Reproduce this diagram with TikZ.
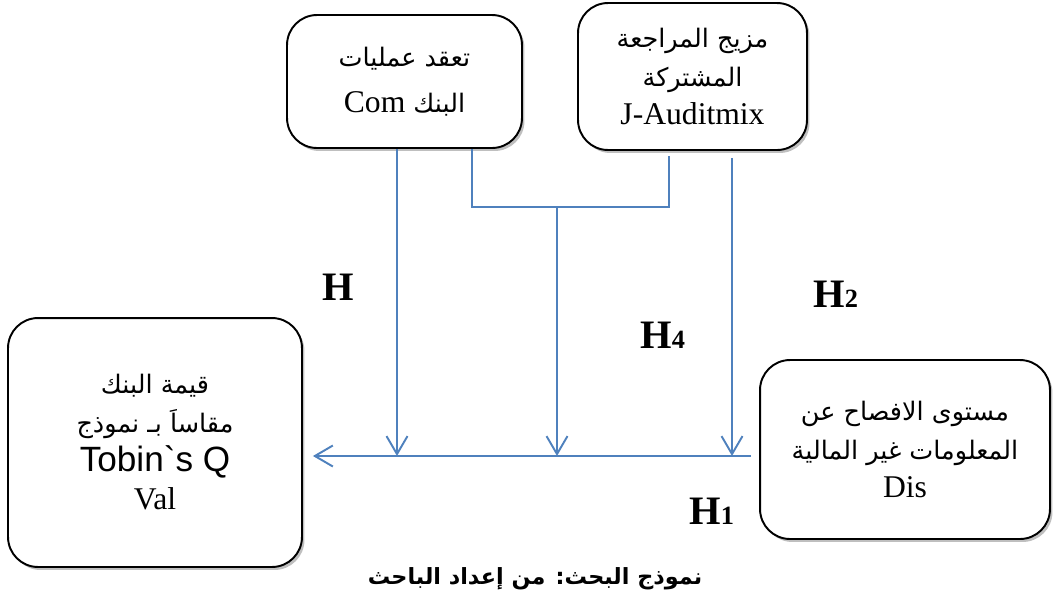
\documentclass[tikz,border=0pt]{standalone}
\usepackage{fontspec}
\setmainfont{Liberation Serif}
\newfontfamily\arabicfont[Script=Arabic]{DejaVu Sans}
\newfontfamily\arialfont{Liberation Sans}
\TeXXeTstate=1
\usetikzlibrary{arrows.meta,shadows,scopes}
\definecolor{lnblue}{RGB}{79,129,189}
\newcommand{\arl}[1]{{\arabicfont\beginR #1\endR}}
\newcommand{\lat}[1]{{\fontsize{18}{22}\selectfont\rmfamily #1}}
\tikzset{
  >= {Straight Barb[length=0.36cm,width=0.42cm]},
  bx/.style={rectangle, rounded corners=0.6cm, draw, line width=1.1pt, fill=white,
    align=center, minimum width=#1, font=\fontsize{14.5}{22}\selectfont,
    drop shadow={shadow xshift=0.05cm, shadow yshift=-0.06cm, opacity=0.5}},
  hl/.style={font=\fontsize{23}{23}\selectfont\bfseries, anchor=base west, inner sep=0pt}
}
\newcommand{\hsub}[1]{{\fontsize{15}{15}\selectfont #1}}

\begin{document}
\begin{tikzpicture}[x=0.02cm, y=-0.02cm, line/.style={draw, lnblue, line width=1.1pt}]
  \useasboundingbox (0,0) rectangle (1054,596);
  \node[bx=4.7cm, minimum height=2.66cm] (com) at (404.5,81.5)
    {\arl{تعقد عمليات}\\[0.15cm] \arl{البنك \lat{\beginL Com\endL}}};
  \node[bx=4.58cm, minimum height=2.94cm] (jam) at (692.5,76.5)
    {\arl{مزيج المراجعة}\\ \arl{المشتركة}\\ \lat{J-Auditmix}};
  \node[bx=5.88cm, minimum height=4.98cm] (val) at (155,442.5)
    {\arl{قيمة البنك}\\ \arl{مقاساَ بـ نموذج}\\ {\fontsize{20}{22}\selectfont\arialfont Tobin`s Q}\\ \lat{Val}};
  \node[bx=5.8cm, minimum height=3.58cm] (dis) at (905,449.5)
    {\arl{مستوى الافصاح عن}\\ \arl{المعلومات غير المالية}\\ \lat{Dis}};
  % meeting points on the main line
  \coordinate (h1) at (397,456);
  \coordinate (h4) at (557,456);
  \coordinate (h2) at (732,456);
  \coordinate (bl) at (472,207);
  \coordinate (bm) at (557,207);
  \coordinate (bright) at (669,207);
  {[every path/.style=line]
  \draw (com.south -| bl) -- (bl) -- (bright) -- ([yshift=-0.1cm]jam.south -| bright);
  }
  {[every path/.style=line, ->]
  \draw (com.south -| h1) -- (h1);
  \draw (bm) -- (h4);
  \draw ([yshift=-0.14cm]jam.south -| h2) -- (h2);
  \draw[shorten <=0.16cm, shorten >=0.2cm] (dis.west |- h4) -- (val.east |- h4);
  }
  \node[hl] (lh) at (322,300) {H};
  \node[hl] (lh4) at (640,348) {H\hsub{4}};
  \node[hl] (lh2) at (813,307) {H\hsub{2}};
  \node[hl] (lh1) at (689,524) {H\hsub{1}};
  \node[font=\fontsize{12.7}{14}\selectfont\bfseries, anchor=base] (cap) at (535,584)
    {\arl{نموذج البحث: من إعداد الباحث}};
\end{tikzpicture}
\end{document}
